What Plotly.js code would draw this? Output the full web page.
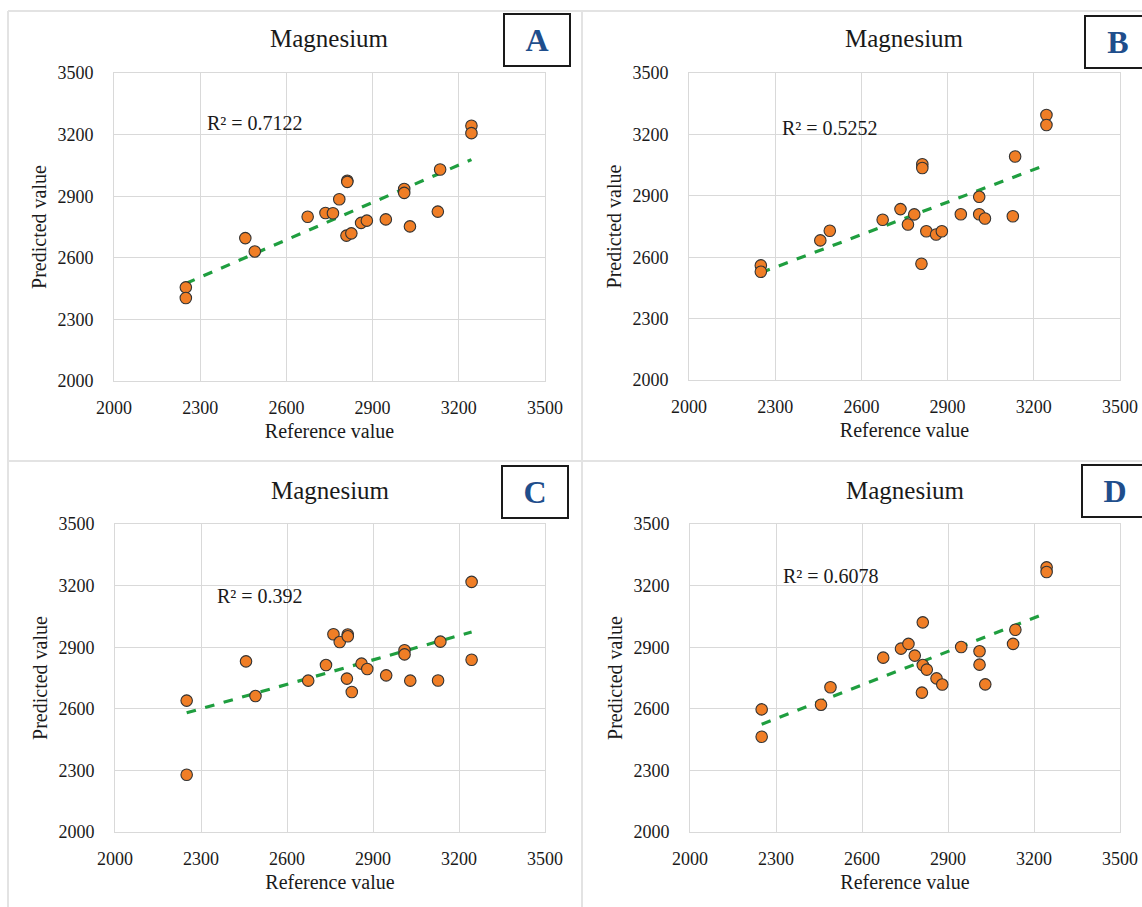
<!DOCTYPE html>
<html>
<head>
<meta charset="utf-8">
<script src="https://cdn.plot.ly/plotly-3.0.1.min.js"></script>
<style>html,body{margin:0;padding:0;background:#fff;}#chart{width:1142px;height:907px;}</style>
</head>
<body>
<div id="chart"></div>
<script>
// ---------- data ----------
const chartTitle = "Magnesium";
const panelLetters = ["A", "B", "C", "D"];
const r2Labels = ["R² = 0.7122", "R² = 0.5252", "R² = 0.392", "R² = 0.6078"];
const xAxisTitle = "Reference value";
const yAxisTitle = "Predicted value";
const tickValues = [2000, 2300, 2600, 2900, 3200, 3500];

const referenceValue = [2250, 2250, 2457, 2490, 2674, 2736, 2762, 2784, 2812, 2812, 2809, 2826, 2860, 2880, 2946, 3010, 3010, 3030, 3127, 3135, 3244, 3244];
const predictedA = [2456, 2404, 2696, 2631, 2800, 2818, 2817, 2885, 2975, 2970, 2708, 2719, 2770, 2781, 2787, 2935, 2916, 2753, 2825, 3030, 3243, 3207];
const predictedB = [2560, 2529, 2682, 2729, 2783, 2835, 2760, 2809, 3054, 3036, 2568, 2727, 2711, 2727, 2810, 2895, 2810, 2789, 2800, 3092, 3295, 3246];
const predictedC = [2640, 2279, 2831, 2662, 2737, 2813, 2963, 2925, 2962, 2953, 2747, 2682, 2820, 2794, 2763, 2885, 2865, 2737, 2738, 2927, 3218, 2839];
const predictedD = [2597, 2464, 2620, 2705, 2849, 2893, 2916, 2859, 3021, 2813, 2679, 2791, 2748, 2718, 2901, 2880, 2815, 2719, 2916, 2985, 3289, 3266];
const predictedSets = [predictedA, predictedB, predictedC, predictedD];

// ---------- layout geometry (pixels) ----------
const W = 1142, H = 907;
const px = v => v / W;
const py = v => 1 - v / H;
const plotBoxes = [
  {x0: 114, x1: 545, y0: 73, y1: 381},
  {x0: 689, x1: 1120, y0: 73, y1: 380},
  {x0: 115, x1: 545, y0: 524, y1: 832},
  {x0: 690, x1: 1120, y0: 524, y1: 832}
];
const letterBoxes = [
  {cx: 537, cy: 40}, {cx: 1118, cy: 42}, {cx: 535, cy: 492}, {cx: 1115, cy: 491}
];
const titleY = [38, 38, 490, 490];
const r2Pos = [
  {x: 2317, y: 3256}, {x: 2317, y: 3231}, {x: 2349, y: 3149}, {x: 2317, y: 3247}
];

const serif = "'Liberation Serif', 'Times New Roman', serif";
const textColor = "#1a1a1a";
const gridColor = "#d9d9d9";

function linFit(xs, ys) {
  const n = xs.length;
  let sx = 0, sy = 0, sxx = 0, sxy = 0;
  for (let i = 0; i < n; i++) { sx += xs[i]; sy += ys[i]; sxx += xs[i] * xs[i]; sxy += xs[i] * ys[i]; }
  const b = (n * sxy - sx * sy) / (n * sxx - sx * sx);
  const a = (sy - b * sx) / n;
  return {a, b};
}

const traces = [];
const layout = {
  width: W, height: H,
  margin: {l: 0, r: 0, t: 0, b: 0},
  paper_bgcolor: "#ffffff",
  plot_bgcolor: "#ffffff",
  font: {family: serif, color: textColor},
  showlegend: false,
  hovermode: false,
  annotations: [],
  shapes: []
};

predictedSets.forEach((ys, i) => {
  const k = i === 0 ? "" : String(i + 1);
  const xa = "x" + k, ya = "y" + k;
  const box = plotBoxes[i];
  const fit = linFit(referenceValue, ys);
  const xmin = Math.min(...referenceValue), xmax = Math.max(...referenceValue);

  traces.push({
    type: "scatter", mode: "lines", xaxis: xa, yaxis: ya,
    x: [xmin, xmax], y: [fit.a + fit.b * xmin, fit.a + fit.b * xmax],
    line: {color: "#1f9e3f", width: 3.2, dash: "dash"}
  });
  traces.push({
    type: "scatter", mode: "markers", xaxis: xa, yaxis: ya,
    x: referenceValue, y: ys,
    marker: {color: "#F07E26", size: 11.5, line: {color: "#333333", width: 1.1}}
  });

  const axCommon = {
    range: [2000, 3500], tickvals: tickValues, ticktext: tickValues.map(String),
    showgrid: true, gridcolor: gridColor, gridwidth: 1,
    zeroline: false, showline: true, mirror: true, linecolor: gridColor, linewidth: 1,
    ticks: "", tickfont: {family: serif, size: 18, color: textColor},
    fixedrange: true
  };
  layout["xaxis" + k] = Object.assign({}, axCommon, {
    domain: [px(box.x0), px(box.x1)], anchor: ya,
    ticklabelstandoff: 10,
    title: {text: xAxisTitle, font: {family: serif, size: 20, color: textColor}, standoff: 7}
  });
  layout["yaxis" + k] = Object.assign({}, axCommon, {
    domain: [py(box.y1), py(box.y0)], anchor: xa,
    ticklabelstandoff: 16,
    title: {text: yAxisTitle, font: {family: serif, size: 20, color: textColor}, standoff: 5}
  });

  // chart title
  layout.annotations.push({
    xref: "paper", yref: "paper", x: px((box.x0 + box.x1) / 2), y: py(titleY[i]),
    xanchor: "center", yanchor: "middle", showarrow: false,
    text: chartTitle, font: {family: serif, size: 25, color: textColor}
  });
  // R² label
  layout.annotations.push({
    xref: xa, yref: ya, x: r2Pos[i].x, y: r2Pos[i].y,
    xanchor: "left", yanchor: "middle", showarrow: false,
    text: r2Labels[i], font: {family: serif, size: 20, color: textColor}
  });
  // panel letter box
  layout.annotations.push({
    xref: "paper", yref: "paper", x: px(letterBoxes[i].cx), y: py(letterBoxes[i].cy),
    xanchor: "center", yanchor: "middle", showarrow: false,
    text: "<b>" + panelLetters[i] + "</b>",
    font: {family: serif, size: 32, color: "#1f4e8c"},
    bgcolor: "#ffffff", bordercolor: "#1a1a1a", borderwidth: 2,
    width: 62, height: 48
  });
});

// panel separator lines
const sepColor = "#e3e3e3";
[8, 582].forEach(xv => layout.shapes.push({
  type: "line", xref: "paper", yref: "paper", x0: px(xv), x1: px(xv), y0: 0, y1: py(11),
  line: {color: sepColor, width: 2}
}));
[11, 461].forEach(yv => layout.shapes.push({
  type: "line", xref: "paper", yref: "paper", x0: px(8), x1: 1, y0: py(yv), y1: py(yv),
  line: {color: sepColor, width: 2}
}));

Plotly.newPlot("chart", traces, layout, {staticPlot: true, displayModeBar: false});
</script>
</body>
</html>
